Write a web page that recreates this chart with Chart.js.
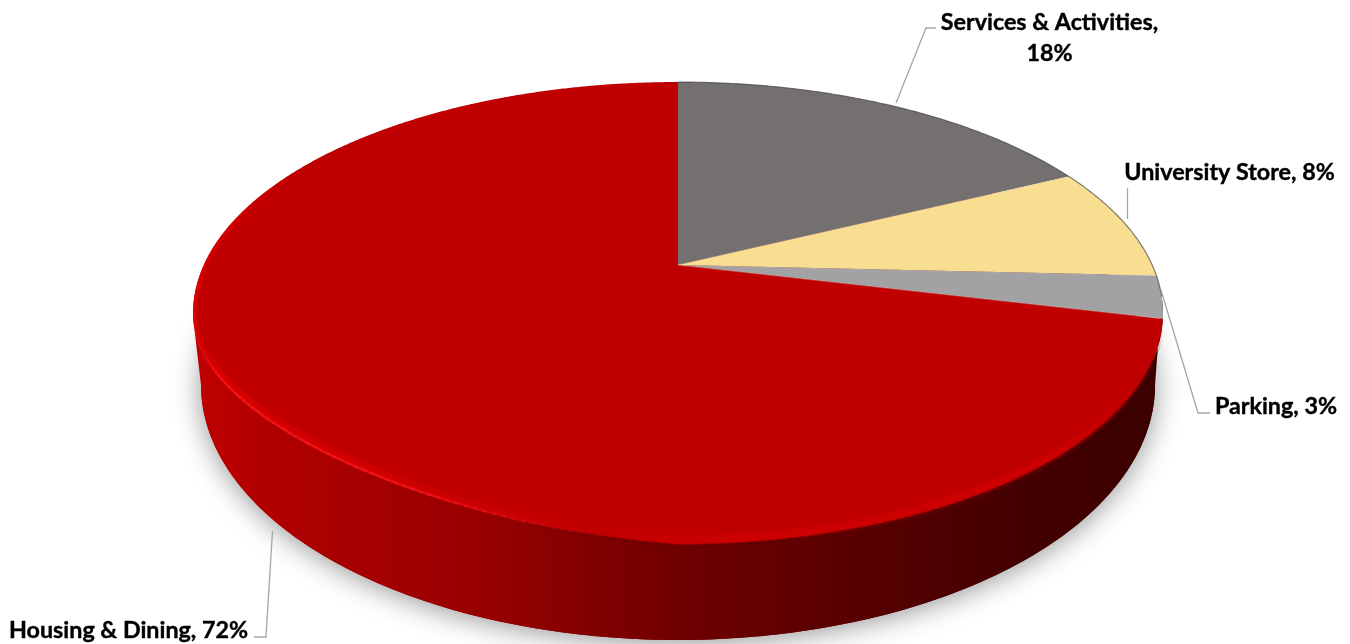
<!DOCTYPE html>
<html>
<head>
<meta charset="utf-8">
<title>Revenue share</title>
<script src="https://cdn.jsdelivr.net/npm/chart.js@4"></script>
<style>
  html, body { margin: 0; padding: 0; background: #fff; }
  canvas { display: block; }
</style>
</head>
<body>
<canvas id="pieChart" width="1350" height="644"></canvas>
<script>
// Chart data
var categories = ["Services & Activities", "University Store", "Parking", "Housing & Dining"];
var shares = [18, 8, 3, 72];
var sliceColors = ["#747070", "#F8DE90", "#A2A2A4", "#C00000"];

// Disc seen in perspective: the apex sits above the centre of the rim ellipse
var disc = { cx: 678, apexY: 265, k: 0.2095, a: 474.2, b: 221.3 };
var rimEllipse = { cx: 678, cy: 313.5, rx: 485, ry: 231.5 };
var baseEllipse = { cx: 678, cy: 385, rx: 477, ry: 255 };

// the bevel pulls the front-left part of the rim up a little
function bevelLift(x, y) {
  var c = (x - rimEllipse.cx) / rimEllipse.rx, s = (y - rimEllipse.cy) / rimEllipse.ry;
  return (c < 0 && s > 0) ? 40 * -c * s : 0;
}

function topPoint(angle) {
  var u = Math.cos(angle), v = Math.sin(angle);
  var w = 1 - disc.k * v;
  var x = disc.cx + disc.a * u / w;
  var y = disc.apexY + disc.b * v / w;
  return { x: x, y: y - bevelLift(x, y) };
}

function ellipsePoint(e, t) {
  return { x: e.cx + e.rx * Math.cos(t), y: e.cy + e.ry * Math.sin(t) };
}

function rad(d) { return d * Math.PI / 180; }

// Stroke a stretch of the rim piece by piece, with a strength that varies along it
function strokeRim(ctx, from, to, width, lift, colorAt) {
  ctx.lineWidth = width;
  for (var t = from; t < to; t += 1) {
    var a = topPoint(rad(t)), b = topPoint(rad(t + 1.2));
    ctx.strokeStyle = colorAt(t);
    ctx.beginPath();
    ctx.moveTo(a.x, a.y - lift);
    ctx.lineTo(b.x, b.y - lift);
    ctx.stroke();
  }
}

// Side wall, shadow, slices and rim shading
var discPlugin = {
  id: "disc",
  beforeDatasetDraw: function(chart) {
    var ctx = chart.ctx;
    var arcs = chart.getDatasetMeta(0).data;
    var i, t, p;

    ctx.save();

    // side wall colour, dark towards the right
    var side = ctx.createLinearGradient(192, 0, 1162, 0);
    side.addColorStop(0, "#c00000");
    side.addColorStop(0.08, "#b00000");
    side.addColorStop(0.3, "#980000");
    side.addColorStop(0.5, "#700000");
    side.addColorStop(0.68, "#580000");
    side.addColorStop(0.85, "#440000");
    side.addColorStop(1, "#3a0000");

    // soft shadow under the base
    ctx.save();
    ctx.shadowColor = "rgba(0,0,0,0.42)";
    ctx.shadowBlur = 28;
    ctx.shadowOffsetY = 3;
    ctx.fillStyle = side;
    ctx.beginPath();
    ctx.ellipse(baseEllipse.cx, baseEllipse.cy, baseEllipse.rx, baseEllipse.ry, 0, 0, Math.PI * 2);
    ctx.fill();
    ctx.restore();

    // side wall from the rim down to the base
    ctx.fillStyle = side;
    ctx.beginPath();
    for (t = 8; t <= 166; t += 1) {
      p = topPoint(rad(t));
      if (t === 8) ctx.moveTo(p.x, p.y); else ctx.lineTo(p.x, p.y);
    }
    for (t = 180; t >= 0; t -= 1) {
      p = ellipsePoint(baseEllipse, rad(t));
      ctx.lineTo(p.x, p.y);
    }
    ctx.closePath();
    ctx.fill();

    // top face slices, angles taken from the arc elements
    arcs.forEach(function(arc) {
      var start = arc.startAngle, end = arc.endAngle;
      var steps = Math.ceil((end - start) / 0.005);
      ctx.beginPath();
      ctx.moveTo(disc.cx, disc.apexY);
      for (var n = 0; n <= steps; n++) {
        var q = topPoint(start + (end - start) * n / steps);
        ctx.lineTo(q.x, q.y);
      }
      ctx.closePath();
      ctx.fillStyle = arc.options.backgroundColor;
      ctx.fill();
    });

    // thin light seams between the slices
    ctx.lineWidth = 1;
    ctx.strokeStyle = "rgba(255,205,185,0.35)";
    for (i = 0; i < arcs.length - 1; i++) {
      var e = topPoint(arcs[i].endAngle);
      ctx.beginPath();
      ctx.moveTo(disc.cx, disc.apexY);
      ctx.lineTo(e.x, e.y);
      ctx.stroke();
    }

    // dark hairline along the back of the rim
    ctx.strokeStyle = "rgba(60,60,60,0.65)";
    ctx.lineWidth = 1.2;
    ctx.beginPath();
    for (t = -90; t <= 8; t += 0.5) {
      p = topPoint(rad(t));
      if (t === -90) ctx.moveTo(p.x, p.y); else ctx.lineTo(p.x, p.y);
    }
    ctx.stroke();

    ctx.lineCap = "round";

    // soft transition along the dark front-right rim
    strokeRim(ctx, 30, 100, 9, 5, function(t) {
      return "rgba(214,0,0," + (0.3 * Math.min(1, (t - 30) / 20) * Math.min(1, (100 - t) / 15)) + ")";
    });
    strokeRim(ctx, 15, 105, 4, -1, function(t) {
      return "rgba(100,0,0," + (0.45 * Math.min(1, (t - 15) / 25) * Math.min(1, (105 - t) / 20)) + ")";
    });

    // brighter band on the left edge, kept inside the face
    ctx.save();
    ctx.beginPath();
    for (t = 0; t <= 360; t += 1) {
      p = topPoint(rad(t));
      if (t === 0) ctx.moveTo(p.x, p.y); else ctx.lineTo(p.x, p.y);
    }
    ctx.closePath();
    ctx.clip();
    strokeRim(ctx, 150, 205, 7, 0, function(t) {
      return "rgba(222,0,0," + (0.5 * Math.min(1, (t - 150) / 10) * Math.min(1, (205 - t) / 20)) + ")";
    });
    ctx.restore();

    // bright bevel along the front-left rim
    strokeRim(ctx, 96, 158, 8, 4, function(t) {
      return "rgba(226,0,0," + (0.3 * Math.min(1, (t - 96) / 25) * Math.min(1, (158 - t) / 10)) + ")";
    });
    strokeRim(ctx, 96, 158, 2.5, 0, function(t) {
      return "rgba(245,20,24," + (0.8 * Math.min(1, (t - 96) / 22) * Math.min(1, (158 - t) / 10)) + ")";
    });

    ctx.restore();
    return false;
  }
};

// Data labels and their leader lines
var labelPlugin = {
  id: "sliceLabels",
  afterDatasetsDraw: function(chart) {
    var ctx = chart.ctx;
    var leaders = [
      [[896, 103], [926, 28], [936, 28]],
      [[1127.5, 188], [1127.5, 219]],
      [[1161, 290], [1198, 413], [1210, 413]],
      [[272.5, 531], [266, 637], [254, 637]]
    ];
    ctx.save();
    ctx.strokeStyle = "#A6A6A6";
    ctx.lineWidth = 1.3;
    leaders.forEach(function(line) {
      ctx.beginPath();
      line.forEach(function(pt, n) {
        if (n === 0) ctx.moveTo(pt[0], pt[1]); else ctx.lineTo(pt[0], pt[1]);
      });
      ctx.stroke();
    });

    ctx.fillStyle = "#000";
    ctx.strokeStyle = "#000";
    ctx.lineWidth = 0.4;
    ctx.font = "bold 23.3px Lato";
    ctx.textBaseline = "alphabetic";

    function put(text, x, y, align) {
      ctx.textAlign = align;
      ctx.fillText(text, x, y);
      ctx.strokeText(text, x, y);
    }
    put(categories[0] + ",", 1049.5, 30, "center");
    put(shares[0] + "%", 1049.5, 61, "center");
    put(categories[1] + ", " + shares[1] + "%", 1229.5, 180, "center");
    put(categories[2] + ", " + shares[2] + "%", 1337, 414, "right");
    put(categories[3] + ", " + shares[3] + "%", 9, 638, "left");
    ctx.restore();
  }
};

var ctx = document.getElementById("pieChart").getContext("2d");
new Chart(ctx, {
  type: "pie",
  data: {
    labels: categories,
    datasets: [{ data: shares, backgroundColor: sliceColors, borderWidth: 0 }]
  },
  options: {
    responsive: false,
    animation: false,
    plugins: { legend: { display: false }, tooltip: { enabled: false } }
  },
  plugins: [discPlugin, labelPlugin]
});
</script>
</body>
</html>
